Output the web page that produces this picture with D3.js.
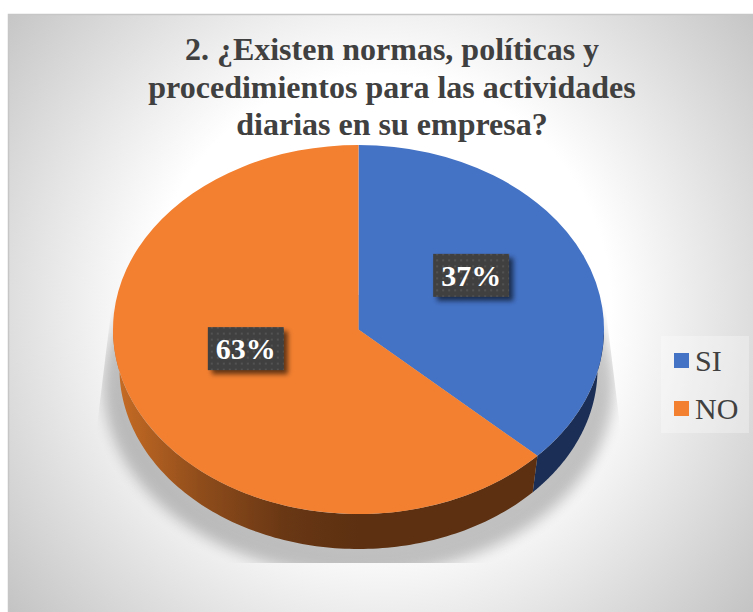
<!DOCTYPE html>
<html>
<head>
<meta charset="utf-8">
<script src="https://cdn.jsdelivr.net/npm/d3@7"></script>
<style>
html,body{margin:0;padding:0;background:#fff}
svg{display:block}
</style>
</head>
<body>
<script>
// Survey question 2: answers and shares, in percent
const categories = ["SI", "NO"];
const shares = [37, 63];
const titleLines = [
  "2. ¿Existen normas, políticas y",
  "procedimientos para las actividades",
  "diarias en su empresa?"
];
const topColors = ["#4472c5", "#f38031"];

const W = 753, H = 612;
const serif = "'Liberation Serif','Times New Roman',serif";
// Tilted disc: upper rim, and the slightly smaller lower rim
const rim = {cx: 358.5, cy: 329.5, rx: 245.5, ry: 184.5};
const base = {cx: 358.5, cy: 369, rx: 239, ry: 180};

const svg = d3.select("body").append("svg").attr("width", W).attr("height", H);
const defs = svg.append("defs");

const bg = defs.append("radialGradient").attr("id", "panel")
  .attr("gradientUnits", "userSpaceOnUse")
  .attr("cx", 380).attr("cy", 305).attr("r", 480);
bg.append("stop").attr("offset", 0).attr("stop-color", "#ffffff");
bg.append("stop").attr("offset", 0.48).attr("stop-color", "#ffffff");
bg.append("stop").attr("offset", 1).attr("stop-color", "#c4c4c4");

const wall = defs.append("linearGradient").attr("id", "wallNo")
  .attr("gradientUnits", "userSpaceOnUse")
  .attr("x1", rim.cx - rim.rx).attr("x2", rim.cx).attr("y1", 0).attr("y2", 0);
[[0, "#c96d25"], [0.35, "#904d1b"], [0.7, "#693714"], [1, "#5c3011"]].forEach(([o, c]) =>
  wall.append("stop").attr("offset", o).attr("stop-color", c));

defs.append("filter").attr("id", "soft").attr("x", "-20%").attr("y", "-20%")
  .attr("width", "140%").attr("height", "140%")
  .append("feGaussianBlur").attr("stdDeviation", 7);

const lblShadow = defs.append("filter").attr("id", "lblShadow")
  .attr("x", "-20%").attr("y", "-30%").attr("width", "140%").attr("height", "170%");
lblShadow.append("feGaussianBlur").attr("stdDeviation", 2.5);

const dots = defs.append("pattern").attr("id", "dots")
  .attr("patternUnits", "userSpaceOnUse").attr("width", 12).attr("height", 12);
dots.append("rect").attr("width", 12).attr("height", 12).attr("fill", "#404040");
[[2, 3], [8, 3], [2, 9], [8, 9]].forEach(([x, y]) =>
  dots.append("circle").attr("cx", x).attr("cy", y).attr("r", 0.9).attr("fill", "#5b5b5b"));

// The cast shadow stops along straight edges at the sides and a flat line underneath
defs.append("clipPath").attr("id", "shadowClip").append("polygon")
  .attr("points", "113,295 94,450 94,563 623,563 623,450 604,295");

// Panel
svg.append("rect").attr("x", 8).attr("y", 14).attr("width", W - 8).attr("height", H - 14)
  .attr("fill", "url(#panel)");
svg.append("path").attr("d", `M8.5 ${H}V14.5H${W}`).attr("fill", "none")
  .attr("stroke", "#c6c6c6").attr("stroke-width", 1.5);

// Title
svg.append("g").selectAll("text").data(titleLines).join("text")
  .attr("x", 392).attr("y", (d, i) => 60 + i * 37.5)
  .attr("text-anchor", "middle")
  .attr("font-family", serif).attr("font-weight", "bold").attr("font-size", 32)
  .attr("fill", "#404040").text(d => d);

const pie = d3.pie().sort(null).value(d => d);
const arcs = pie(shares);

const onEllipse = (e, a) => [e.cx + e.rx * Math.sin(a), e.cy - e.ry * Math.cos(a)];

// Cast shadow beneath the disc
const outline = d3.line().curve(d3.curveLinearClosed);
const ringAngles = d3.range(0, 2 * Math.PI, Math.PI / 90);
const shadowEllipse = {cx: base.cx, cy: 385, rx: 255, ry: 190};
svg.append("g").attr("clip-path", "url(#shadowClip)").append("path")
  .attr("d", outline(ringAngles.map(a => onEllipse(shadowEllipse, a))))
  .attr("fill", "#000").attr("opacity", 0.23).attr("filter", "url(#soft)");

// Side wall: only the front half of the rim is visible
const wallFill = ["#1a2e56", "url(#wallNo)"];
const wallPoints = (d) => {
  const a0 = Math.max(d.startAngle, Math.PI / 2);
  const a1 = Math.min(d.endAngle, 3 * Math.PI / 2);
  if (a1 <= a0) return null;
  const steps = d3.range(0, 121).map(i => a0 + (a1 - a0) * i / 120);
  return [...steps.map(a => onEllipse(rim, a)), ...steps.slice().reverse().map(a => onEllipse(base, a))];
};
svg.append("g").selectAll("path").data(arcs).join("path")
  .attr("d", d => { const p = wallPoints(d); return p ? outline(p) : null; })
  .attr("fill", (d, i) => wallFill[i]);

// Top face: a circular pie flattened into the tilted ellipse
const arc = d3.arc().innerRadius(0).outerRadius(rim.rx);
svg.append("g")
  .attr("transform", `translate(${rim.cx},${rim.cy}) scale(1,${rim.ry / rim.rx})`)
  .selectAll("path").data(arcs).join("path")
  .attr("d", arc).attr("fill", (d, i) => topColors[i]);

// Value labels sit halfway out along each slice, lifted a little off the tilted face
const labelArc = d3.arc().innerRadius(rim.rx * 0.5).outerRadius(rim.rx * 0.5);
const boxW = 76, boxH = 43, lift = 17.5;
const labels = svg.append("g").selectAll("g").data(arcs).join("g")
  .attr("transform", d => {
    const [x, y] = labelArc.centroid(d);
    return `translate(${rim.cx + x},${rim.cy + y * rim.ry / rim.rx - lift})`;
  });
labels.append("rect").attr("x", -boxW / 2 + 4).attr("y", -boxH / 2 + 4)
  .attr("width", boxW).attr("height", boxH)
  .attr("fill", "#000").attr("opacity", 0.6).attr("filter", "url(#lblShadow)");
labels.append("rect").attr("x", -boxW / 2).attr("y", -boxH / 2)
  .attr("width", boxW).attr("height", boxH).attr("fill", "url(#dots)");
labels.append("text").attr("text-anchor", "middle").attr("y", 10.5)
  .attr("font-family", serif).attr("font-weight", "bold").attr("font-size", 30)
  .attr("fill", "#fff").text(d => d.data + "%");

// Legend
svg.append("rect").attr("x", 661).attr("y", 336).attr("width", 88).attr("height", 97)
  .attr("fill", "#fff").attr("opacity", 0.3);
const rowY = d3.scalePoint().domain(categories).range([360.5, 408.5]);
const legend = svg.append("g").selectAll("g").data(categories).join("g")
  .attr("transform", d => `translate(674,${rowY(d)})`);
legend.append("rect").attr("y", -7.5).attr("width", 15).attr("height", 15)
  .attr("fill", (d, i) => topColors[i]);
legend.append("text").attr("x", 21).attr("y", 10)
  .attr("font-family", serif).attr("font-size", 30).attr("fill", "#404040").text(d => d);
</script>
</body>
</html>
